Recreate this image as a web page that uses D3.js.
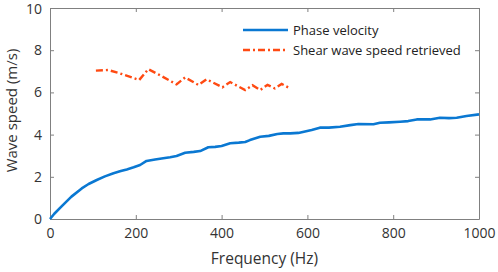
<!DOCTYPE html>
<html>
<head>
<meta charset="utf-8">
<script src="https://cdn.jsdelivr.net/npm/d3@7"></script>
<style>
  body { margin: 0; background: #fff; }
  text { font-family: "Open Sans", "Noto Sans", sans-serif; }
</style>
</head>
<body>
<div id="chart"></div>
<script>
// phase velocity curve (Hz, m/s)
const phaseFreq = [0, 10, 27, 50, 74, 90, 109, 128, 148, 165, 179, 195, 210, 225, 245, 264, 280, 295, 315, 335, 350, 369, 385, 400, 420, 440, 455, 466, 490, 510, 530, 544, 560, 579, 610, 629, 650, 676, 700, 719, 754, 769, 790, 816, 835, 855, 886, 909, 930, 948, 971, 1000];
const phaseVel  = [0, 0.25, 0.6, 1.06, 1.45, 1.66, 1.85, 2.02, 2.17, 2.27, 2.35, 2.45, 2.56, 2.75, 2.82, 2.88, 2.93, 2.99, 3.14, 3.18, 3.22, 3.4, 3.42, 3.46, 3.59, 3.62, 3.65, 3.74, 3.9, 3.94, 4.03, 4.06, 4.06, 4.08, 4.22, 4.33, 4.33, 4.37, 4.45, 4.5, 4.49, 4.56, 4.58, 4.61, 4.64, 4.72, 4.72, 4.8, 4.78, 4.8, 4.88, 4.96];

// shear wave speed retrieved (Hz, m/s)
const shearFreq = [107, 136, 163, 208, 229, 256, 295, 315, 346, 365, 402, 420, 455, 472, 490, 507, 524, 540, 555];
const shearVel  = [7.03, 7.06, 6.9, 6.59, 7.1, 6.82, 6.38, 6.71, 6.35, 6.62, 6.24, 6.49, 6.11, 6.34, 6.11, 6.36, 6.19, 6.4, 6.24];

const xTicks = [0, 200, 400, 600, 800, 1000];
const yTicks = [0, 2, 4, 6, 8, 10];
const seriesNames = ["Phase velocity", "Shear wave speed retrieved"];

const W = 498, H = 272;
const margin = {top: 8, right: 19, bottom: 53, left: 50},
  width = W - margin.left - margin.right,
  height = H - margin.top - margin.bottom;

const blue = "#0a78d2", orange = "#ff4a12", axisColor = "#808080", textColor = "#333";

const svg = d3.select("#chart").append("svg")
  .attr("width", W).attr("height", H)
  .append("g")
  .attr("transform", `translate(${margin.left},${margin.top})`);

const x = d3.scaleLinear().domain([0, 1000]).range([0, width]);
const y = d3.scaleLinear().domain([0, 10]).range([height, 0]);

// axes with inward ticks, mirrored top/right
const styleAxis = g => {
  g.select(".domain").attr("stroke", axisColor).attr("stroke-width", 1);
  g.selectAll(".tick line").attr("stroke", axisColor);
  g.selectAll(".tick text").attr("fill", textColor).style("font-size", "14px");
};

svg.append("g")
  .attr("transform", `translate(0,${height})`)
  .call(d3.axisBottom(x).tickValues(xTicks).tickFormat(d3.format("d"))
    .tickSizeInner(-4).tickSizeOuter(0).tickPadding(9))
  .call(styleAxis);

svg.append("g")
  .call(d3.axisLeft(y).tickValues(yTicks).tickSizeInner(-4).tickSizeOuter(0).tickPadding(8))
  .call(styleAxis)
  .call(g => g.selectAll(".tick text").attr("dy", d => d === 10 ? "0.38em" : "0.32em"));

svg.append("g")
  .call(d3.axisTop(x).tickValues(xTicks).tickSizeInner(-4).tickSizeOuter(0).tickFormat(""))
  .call(styleAxis);

svg.append("g")
  .attr("transform", `translate(${width},0)`)
  .call(d3.axisRight(y).tickValues(yTicks).tickSizeInner(-4).tickSizeOuter(0).tickFormat(""))
  .call(styleAxis);

// axis titles
svg.append("text")
  .attr("x", width / 2)
  .attr("y", height + 45)
  .attr("text-anchor", "middle")
  .attr("fill", textColor)
  .style("font-size", "15.5px")
  .text("Frequency (Hz)");

svg.append("text")
  .attr("transform", "rotate(-90)")
  .attr("x", -height / 2 + 3)
  .attr("y", -33)
  .attr("text-anchor", "middle")
  .attr("fill", textColor)
  .style("font-size", "15px")
  .text("Wave speed (m/s)");

// lines
const line = d3.line().x(d => x(d[0])).y(d => y(d[1]));

svg.append("path")
  .datum(d3.zip(phaseFreq, phaseVel))
  .attr("fill", "none")
  .attr("stroke", blue)
  .attr("stroke-width", 2.6)
  .attr("stroke-linejoin", "round")
  .attr("d", line);

svg.append("path")
  .datum(d3.zip(shearFreq, shearVel))
  .attr("fill", "none")
  .attr("stroke", orange)
  .attr("stroke-width", 2.4)
  .attr("stroke-dasharray", "7,3,2,3")
  .attr("d", line);

// legend
const legend = svg.append("g").attr("transform", "translate(193,22)");
const legendStyles = [
  {color: blue, dash: null, w: 2.6},
  {color: orange, dash: "7,3,2,3", w: 2.4}
];
seriesNames.forEach((name, i) => {
  const g = legend.append("g").attr("transform", `translate(0,${i * 20})`);
  g.append("line")
    .attr("x1", 0).attr("x2", 45)
    .attr("stroke", legendStyles[i].color)
    .attr("stroke-width", legendStyles[i].w)
    .attr("stroke-dasharray", legendStyles[i].dash);
  g.append("text")
    .attr("x", 50).attr("dy", "0.35em")
    .attr("fill", "#222")
    .style("font-size", "13px")
    .text(name);
});
</script>
</body>
</html>
